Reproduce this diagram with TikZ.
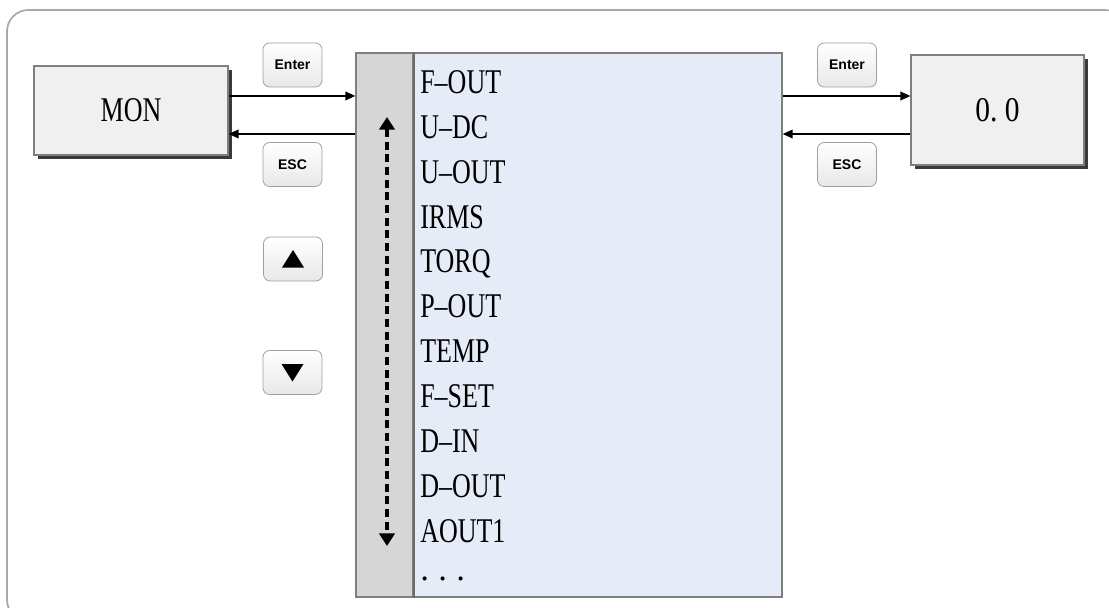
\documentclass[tikz,border=0pt]{standalone}
\usepackage{fontspec}
\setmainfont{Liberation Serif}
\newfontfamily\btnfont{Liberation Sans}
\usetikzlibrary{shadows,arrows.meta,calc}
\definecolor{boxfill}{HTML}{F0F0F0}
\definecolor{boxline}{HTML}{7F7F7F}
\definecolor{shadowc}{HTML}{3A3A3A}
\definecolor{listblue}{HTML}{E6ECF7}
\definecolor{bargray}{HTML}{D6D6D6}
\definecolor{frame}{HTML}{A8A8A8}
\newcommand\cond[1]{\scalebox{0.75}[1]{#1}}
\tikzset{
  bigbox/.style={draw=boxline, line width=0.9pt, fill=boxfill, inner sep=0pt,
    font=\fontsize{26}{26}\selectfont,
    drop shadow={shadow xshift=3pt, shadow yshift=-3pt, fill=shadowc, opacity=1}},
  btn/.style={draw=gray!75, line width=0.6pt, rounded corners=5pt, top color=white,
    bottom color=gray!18, minimum width=44.25pt, minimum height=33pt, inner sep=0pt,
    font=\btnfont\bfseries\fontsize{10.5}{10.5}\selectfont},
  item/.style={anchor=base west, inner sep=0pt, font=\fontsize{26}{26}\selectfont},
  arr/.style={line width=1.1pt, -{Triangle[length=7.5pt,width=6.5pt]}},
  dasharr/.style={line width=2.4pt, dash pattern=on 6pt off 3.5pt,
    {Triangle[length=9.5pt,width=11.5pt]}-{Triangle[length=9.5pt,width=11.5pt]}},
}
\begin{document}
\begin{tikzpicture}[x=0.75pt,y=-0.75pt]
\useasboundingbox (0,0) rectangle (1109,607);
\begin{scope}
\clip (0,0) rectangle (1109,607);
\draw[frame, line width=1.3pt, rounded corners=16pt] (7,10) rectangle (1126,621);
\end{scope}

% main boxes
\node[bigbox, minimum width=145.5pt, minimum height=66.75pt] (mon) at (131,110.5) {\cond{MON}};
\node[bigbox, minimum width=129.75pt, minimum height=82.5pt] (val) at (997.5,110) {\scalebox{0.85}[1]{0.\ 0}};

% list
\node[draw=boxline, line width=1pt, fill=bargray, minimum width=42.75pt, minimum height=408pt, inner sep=0pt] (bar) at (384.5,325) {};
\node[draw=boxline, line width=1pt, fill=listblue, minimum width=276.75pt, minimum height=408pt, inner sep=0pt] (list) at (597.5,325) {};
\draw[gray!85!black, line width=1.6pt] (bar.north east) -- (bar.south east);

\node[item] (i1) at (420,93) {\cond{F–OUT}};
\node[item] (i2) at (420,138) {\cond{U–DC}};
\node[item] (i3) at (420,183) {\cond{U–OUT}};
\node[item] (i4) at (420,228) {\cond{IRMS}};
\node[item] (i5) at (420,272) {\cond{TORQ}};
\node[item] (i6) at (420,317) {\cond{P–OUT}};
\node[item] (i7) at (420,362) {\cond{TEMP}};
\node[item] (i8) at (420,407) {\cond{F–SET}};
\node[item] (i9) at (420,452) {\cond{D–IN}};
\node[item] (i10) at (420,497) {\cond{D–OUT}};
\node[item] (i11) at (420,542) {\cond{AOUT1}};
\node[item] (i12) at (420,580) {.\hspace{7pt}.\hspace{7pt}.};

% dashed scroll arrow
\coordinate (dtop) at (387,117);
\coordinate (dbot) at (387,546);
\draw[dasharr] (dtop) -- (dbot);

% buttons
\node[btn] (entL) at (292.5,65) {Enter};
\node[btn] (escL) at (292.5,164.5) {ESC};
\node[btn] (entR) at (847,65) {Enter};
\node[btn] (escR) at (847,164.5) {ESC};
\node[btn] (up) at (293,259) {};
\node[btn] (dn) at (292.5,372.5) {};
\fill ($(up.center)+(-11,8.5)$) -- ($(up.center)+(11,8.5)$) -- ($(up.center)+(0,-9)$) -- cycle;
\fill ($(dn.center)+(-11,-8.5)$) -- ($(dn.center)+(11,-8.5)$) -- ($(dn.center)+(0,9)$) -- cycle;

% connectors
\draw[arr] ([yshift=10.9pt]mon.east) -- ([yshift=10.9pt]mon.east -| bar.west);
\draw[arr] ([yshift=-17.6pt]mon.east -| bar.west) -- ([yshift=-17.6pt]mon.east);
\draw[arr] ([yshift=10.5pt]val.west -| list.east) -- ([yshift=10.5pt]val.west);
\draw[arr] ([yshift=-18pt]val.west) -- ([yshift=-18pt]val.west -| list.east);
\end{tikzpicture}
\end{document}
